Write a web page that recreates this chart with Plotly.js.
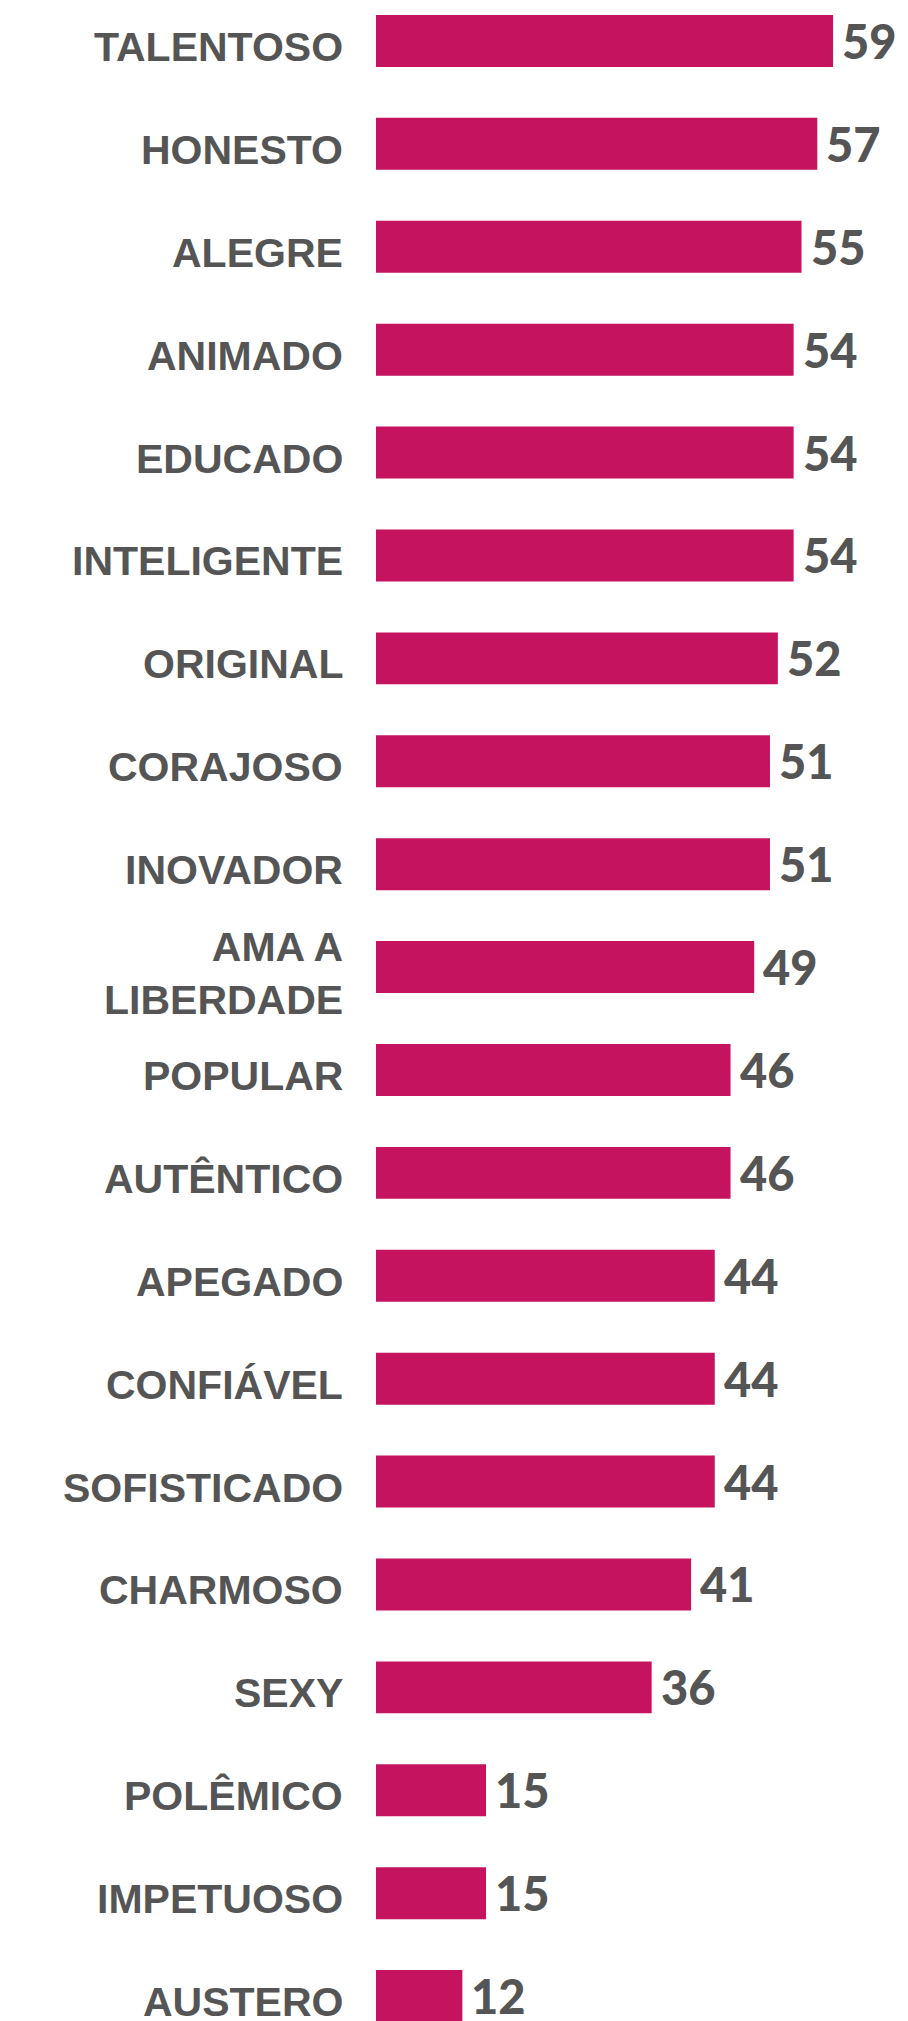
<!DOCTYPE html>
<html>
<head>
<meta charset="utf-8">
<script src="https://cdn.plot.ly/plotly-3.0.1.min.js"></script>
<style>html,body{margin:0;padding:0;background:#fff;}#chart{width:908px;height:2021px;}</style>
</head>
<body>
<div id="chart"></div>
<script>
const categories = ["TALENTOSO","HONESTO","ALEGRE","ANIMADO","EDUCADO","INTELIGENTE","ORIGINAL","CORAJOSO","INOVADOR","AMA A<br>LIBERDADE","POPULAR","AUTÊNTICO","APEGADO","CONFIÁVEL","SOFISTICADO","CHARMOSO","SEXY","POLÊMICO","IMPETUOSO","AUSTERO"];
const values = [59,57,55,54,54,54,52,51,51,49,46,46,44,44,44,41,36,15,15,12];

const barColor = "#c5135f";
const textColor = "#555555";

const annotations = [];
categories.forEach((c, i) => {
  annotations.push({
    xref: "paper", yref: "y", x: 0, y: c, text: c,
    xanchor: "right", yanchor: "middle", align: "right",
    xshift: -31, yshift: -6, showarrow: false,
    font: {family: "Liberation Sans, Arial, sans-serif", size: 41, color: textColor, weight: 700}
  });
  annotations.push({
    xref: "x", yref: "y", x: values[i], y: c, text: String(values[i]),
    xanchor: "left", yanchor: "middle", xshift: 7, yshift: 0, showarrow: false,
    font: {family: "Lato, sans-serif", size: 47, color: textColor, weight: 900}
  });
});

const trace = {
  type: "bar", orientation: "h",
  x: values, y: categories,
  marker: {color: barColor},
  width: 0.505,
  hoverinfo: "skip"
};

const layout = {
  width: 908, height: 2021,
  margin: {l: 376, r: 0, t: 0, b: 0, pad: 0},
  paper_bgcolor: "#ffffff", plot_bgcolor: "#ffffff",
  showlegend: false,
  xaxis: {range: [1.05, 68.5], visible: false, fixedrange: true},
  yaxis: {type: "category", categoryorder: "array", categoryarray: categories,
          range: [19.242, -0.398], showticklabels: false, showgrid: false,
          zeroline: false, showline: false, ticks: "", fixedrange: true},
  annotations: annotations
};

Plotly.newPlot("chart", [trace], layout, {displayModeBar: false, staticPlot: true});
</script>
</body>
</html>
